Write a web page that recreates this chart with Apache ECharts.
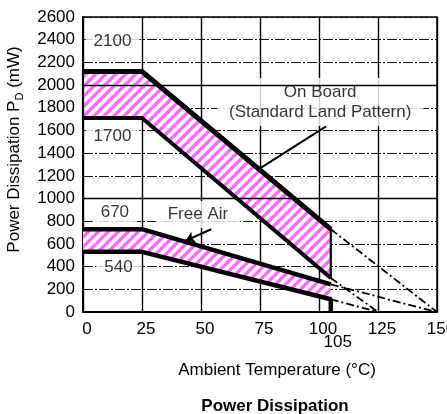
<!DOCTYPE html>
<html>
<head>
<meta charset="utf-8">
<script src="https://cdn.jsdelivr.net/npm/echarts@6.0.0/dist/echarts.min.js"></script>
<style>
  html, body { margin: 0; padding: 0; background: #fff; }
  #chart { width: 447px; height: 414px; }
</style>
</head>
<body>
<div id="chart"></div>
<script>
// break points of the derating curves (°C)
const tempBreaks = [0, 25, 105];
// mW at each break point
const onBoardMax = [2120, 2120, 730];
const onBoardMin = [1710, 1710, 300];
const freeAirMax = [730, 730, 243];
const freeAirMin = [530, 530, 112];
// where each dash-dot extension reaches 0 mW: onBoardMax, onBoardMin, freeAirMax, freeAirMin
const zeroTemp = [150, 125, 150, 125];
const levelText = ['2100', '1700', '670', '540'];
const cutoffTemp = 105;

const FONT = '"Liberation Sans", Arial, sans-serif';

function pts(ys) {
    return tempBreaks.map((t, i) => [t, ys[i]]);
}

// pink diagonal hatch
const tile = document.createElement('canvas');
tile.width = 10;
tile.height = 10;
const tc = tile.getContext('2d');
tc.fillStyle = '#fff';
tc.fillRect(0, 0, 10, 10);
tc.strokeStyle = '#ff6cff';
tc.lineWidth = 3.4;
[0, 10, 20].forEach(k => {
    tc.beginPath();
    tc.moveTo(k + 2, -2);
    tc.lineTo(k - 12, 12);
    tc.stroke();
});
const hatch = {image: tile, repeat: 'repeat'};

function band(upper, lower, stroke) {
    return {
        type: 'custom',
        coordinateSystem: 'cartesian2d',
        data: [[0, 0]],
        silent: true,
        z: 2,
        renderItem: (params, api) => {
            const poly = pts(upper).concat(pts(lower).reverse()).map(p => api.coord(p));
            return {
                type: 'polygon',
                shape: {points: poly},
                style: {fill: hatch, stroke: stroke ? '#000' : null, lineWidth: stroke ? 2.2 : 0}
            };
        }
    };
}

function curve(ys, width, tail) {
    return {
        type: 'line',
        data: pts(ys).concat(tail || []),
        symbol: 'none',
        silent: true,
        z: 4,
        lineStyle: {color: '#000', width: width}
    };
}

function extension(y105, zero) {
    return {
        type: 'line',
        data: [[cutoffTemp, y105], [zero, 0]],
        symbol: 'none',
        silent: true,
        z: 4,
        lineStyle: {color: '#000', width: 1.8, type: [8, 3, 2, 3]}
    };
}

const textStyle = {
    show: true,
    position: 'inside',
    color: '#000',
    textBorderWidth: 0,
    fontSize: 17,
    fontFamily: FONT,
    backgroundColor: '#fff',
    formatter: p => p.name
};

const labelSeries = {
    type: 'scatter',
    symbolSize: 1,
    silent: true,
    z: 3,
    itemStyle: {color: '#fff'},
    label: Object.assign({}, textStyle, {padding: [7, 8]}),
    data: [
        {name: levelText[0], value: [12.5, 2390]},
        {name: levelText[1], value: [12.5, 1548]},
        {name: levelText[2], value: [13.5, 879], label: {padding: [4, 8]}},
        {name: levelText[3], value: [15, 394], label: {padding: [4, 8]}},
        {name: 'Free Air', value: [48.7, 860], label: {padding: [5, 12]}},
        {name: 'On Board\n(Standard Land Pattern)', value: [100.5, 1850],
            label: {padding: [4, 12], lineHeight: 20}}
    ]
};

const chart = echarts.init(document.getElementById('chart'));

chart.setOption({
    animation: false,
    backgroundColor: '#fff',
    title: {
        text: 'Power Dissipation',
        left: 270,
        top: 393,
        textAlign: 'center',
        textStyle: {fontSize: 17, fontWeight: 'bold', color: '#000', fontFamily: FONT}
    },
    grid: {
        left: 83, right: 10, top: 17, bottom: 102,
        show: true, borderColor: '#000', borderWidth: 1.5,
        outerBoundsMode: 'none'
    },
    xAxis: {
        type: 'value',
        min: 0, max: 150, interval: 25,
        name: 'Ambient Temperature (°C)',
        nameLocation: 'middle',
        nameGap: 50,
        nameTextStyle: {fontSize: 17, color: '#000', fontFamily: FONT, padding: [0, 0, 0, 34]},
        axisLine: {lineStyle: {color: '#000', width: 2}},
        axisTick: {show: false},
        axisLabel: {fontSize: 17, color: '#000', fontFamily: FONT, margin: 9,
            formatter: v => String(v), padding: [0, 0, 0, 8]},
        splitLine: {lineStyle: {color: '#000', width: 1.4}}
    },
    yAxis: {
        type: 'value',
        min: 0, max: 2600, interval: 200,
        name: '{a|Power Dissipation P}{s|D}{a| (mW)}',
        nameLocation: 'middle',
        nameRotate: 90,
        nameGap: 58,
        nameTextStyle: {
            padding: [0, 0, 0, 30],
            rich: {
                a: {fontSize: 17, color: '#000', fontFamily: FONT},
                s: {fontSize: 11, color: '#000', fontFamily: FONT, padding: [10, 0, 0, 0]}
            }
        },
        axisLine: {show: true, lineStyle: {color: '#000', width: 2}},
        axisTick: {show: false},
        axisLabel: {fontSize: 17, color: '#000', fontFamily: FONT, margin: 8,
            formatter: v => String(v)},
        splitLine: {lineStyle: {color: '#111', width: 1, type: [10, 2, 2, 2]}}
    },
    series: [
        {
            type: 'line',
            data: [],
            z: 1,
            silent: true,
            markLine: {
                silent: true,
                symbol: 'none',
                label: {show: false},
                lineStyle: {color: '#000', width: 1.3, type: 'solid'},
                data: [{yAxis: 1000}, {yAxis: 2000}]
            }
        },
        band(onBoardMax, onBoardMin, true),
        band(freeAirMax, freeAirMin, false),
        labelSeries,
        curve(onBoardMax, 5),
        curve(onBoardMin, 4),
        curve(freeAirMax, 4.5),
        curve(freeAirMin, 4.5, [[cutoffTemp, 0]]),
        extension(onBoardMax[2], zeroTemp[0]),
        extension(onBoardMin[2], zeroTemp[1]),
        extension(freeAirMax[2], zeroTemp[2]),
        extension(freeAirMin[2], zeroTemp[3]),
        {
            type: 'line',
            data: [],
            z: 4,
            silent: true,
            markLine: {
                silent: true,
                label: {show: false},
                lineStyle: {color: '#000', width: 2, type: 'solid'},
                data: [
                    [{coord: [74.5, 1260], symbol: 'none'}, {coord: [103, 1636], symbol: 'none'}],
                    [{coord: [54.3, 729], symbol: 'none'}, {coord: [43.5, 628], symbol: 'arrow', symbolSize: 9}]
                ]
            },
            markPoint: {
                silent: true,
                symbol: 'circle',
                symbolSize: 0,
                label: {
                    show: true,
                    position: 'bottom',
                    distance: 22,
                    offset: [7, 0],
                    color: '#000',
                    opacity: 1,
                    fontSize: 17,
                    fontFamily: FONT,
                    formatter: String(cutoffTemp)
                },
                data: [{coord: [cutoffTemp, 0]}]
            }
        }
    ]
});
</script>
</body>
</html>
